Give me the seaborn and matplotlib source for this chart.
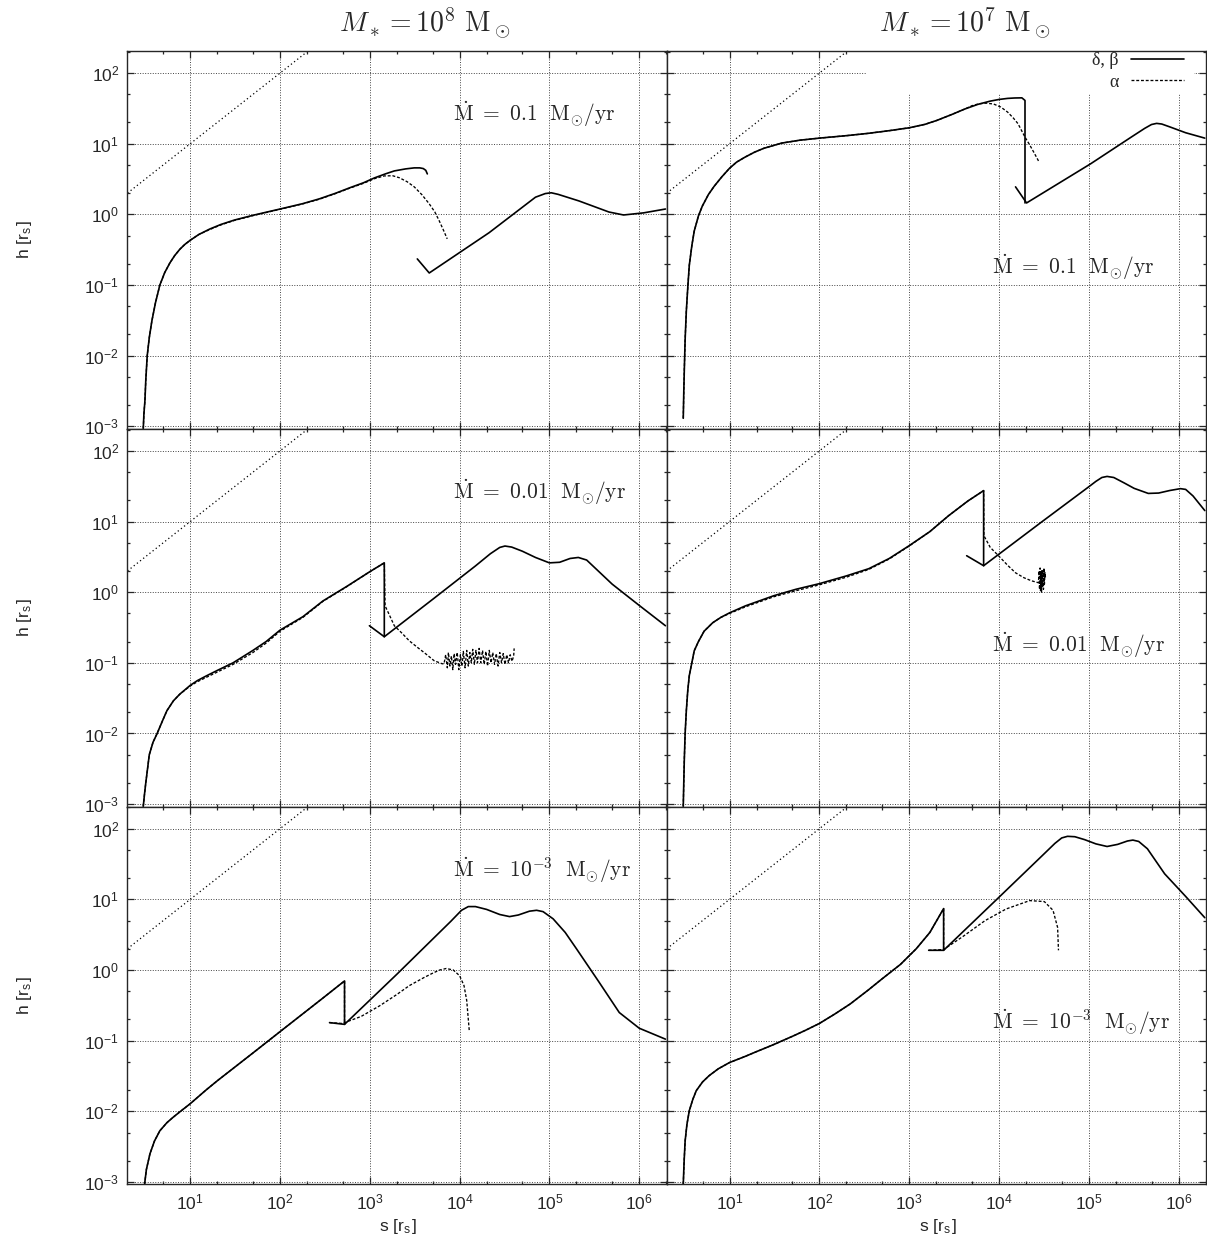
import numpy as np
import matplotlib
matplotlib.use("Agg")
import matplotlib.pyplot as plt
import seaborn as sns
from matplotlib.ticker import FixedLocator, FuncFormatter, NullFormatter
from matplotlib.lines import Line2D
from matplotlib.patches import Rectangle

# ---------------- scale height h [r_s] along the stream coordinate s [r_s] ----------------
# M* = 1e8 Msun, Mdot = 0.1 Msun/yr
p1_inner_s = [3.0, 3.05, 3.13, 3.2, 3.32, 3.5, 3.74, 4.1, 4.59, 5.2, 5.93, 6.7, 7.65, 8.7, 10, 12.5, 16.5, 22, 31, 50, 100,
              180, 275, 420, 593, 850, 1125, 1500, 1875, 2500, 3125, 3600, 3940, 4200, 4370]
p1_inner_h = [9.3e-4, 1.5e-3, 2.3e-3, 4.5e-3, 1.0e-2, 0.018, 0.031, 0.056, 0.10, 0.15, 0.205, 0.26, 0.32, 0.375, 0.43, 0.52, 0.62, 0.72, 0.83, 0.97, 1.19,
              1.42, 1.66, 2.0, 2.37, 2.8, 3.28, 3.75, 4.12, 4.4, 4.55, 4.55, 4.45, 4.2, 3.74]
p1_alpha_s = [3.0, 3.05, 3.13, 3.2, 3.32, 3.5, 3.74, 4.1, 4.59, 5.2, 5.93, 6.7, 7.65, 8.7, 10, 12.5, 16.5, 22, 31, 50, 100,
              180, 275, 420, 593, 850, 1125, 1450, 1800, 2130, 2600, 3125, 3800, 4590, 5300, 5930, 6600, 7280]
p1_alpha_h = [9.3e-4, 1.5e-3, 2.3e-3, 4.5e-3, 1.0e-2, 0.018, 0.031, 0.056, 0.10, 0.15, 0.205, 0.26, 0.32, 0.375, 0.43, 0.52, 0.61, 0.71, 0.82, 0.96, 1.18,
              1.41, 1.64, 1.98, 2.34, 2.75, 3.2, 3.5, 3.52, 3.3, 2.9, 2.45, 1.9, 1.41, 1.08, 0.81, 0.6, 0.45]
p1_outer_s = [3380, 4590, 2.13e4, 7e4, 9e4, 1.05e5, 1.25e5, 2.13e5, 4.6e5, 6.7e5, 1.12e6, 1.96e6]
p1_outer_h = [0.234, 0.148, 0.55, 1.75, 1.97, 2.02, 1.92, 1.55, 1.08, 0.98, 1.05, 1.19]

# M* = 1e7 Msun, Mdot = 0.1 Msun/yr
p2_inner_s = [3.05, 3.09, 3.13, 3.2, 3.3, 3.42, 3.56, 3.8, 4.04, 4.5, 4.96, 5.8, 6.74, 8.2, 10, 12, 15, 19, 24, 38, 60, 100,
              200, 347, 600, 1000, 1500, 2040, 3000, 4170, 5800, 7940, 1.0e4, 1.25e4, 1.5e4, 1.8e4, 1.95e4, 1.95e4]
p2_inner_h = [1.3e-3, 3e-3, 6e-3, 0.017, 0.043, 0.09, 0.19, 0.36, 0.58, 0.95, 1.3, 1.9, 2.5, 3.4, 4.5, 5.5, 6.5, 7.6, 8.6, 10.2, 11.2, 12,
              13, 14, 15.3, 16.8, 18.8, 21.4, 26, 31, 36, 40, 42.3, 43.8, 44.4, 44.6, 41, 1.45]
p2_alpha_s = [3.05, 3.09, 3.13, 3.2, 3.3, 3.42, 3.56, 3.8, 4.04, 4.5, 4.96, 5.8, 6.74, 8.2, 10, 12, 15, 19, 24, 38, 60, 100,
              200, 347, 600, 1000, 1500, 2040, 3000, 4170, 5000, 6000, 7200, 8700, 1.05e4, 1.25e4, 1.45e4, 1.63e4, 1.95e4, 2.2e4, 2.44e4, 2.8e4]
p2_alpha_h = [1.3e-3, 3e-3, 6e-3, 0.017, 0.043, 0.09, 0.19, 0.36, 0.58, 0.95, 1.3, 1.9, 2.5, 3.4, 4.5, 5.5, 6.5, 7.6, 8.6, 10.2, 11.2, 12,
              13, 14, 15.3, 16.8, 18.8, 21.4, 26, 31, 34.5, 36.8, 37.5, 36.5, 33, 28, 23, 19.2, 12.4, 9.6, 7.6, 5.5]
p2_outer_s = [1.53e4, 2.03e4, 1.05e5, 3e5, 4.2e5, 5e5, 5.7e5, 6.5e5, 8e5, 1.2e6, 1.96e6]
p2_outer_h = [2.45, 1.45, 5.2, 12.5, 16.5, 18.7, 19.4, 19.0, 17.3, 14.3, 12]

# M* = 1e8 Msun, Mdot = 0.01 Msun/yr
p3_inner_s = [3.0, 3.1, 3.2, 3.5, 3.85, 4.28, 4.9, 5.5, 6.5, 7.65, 10, 12, 15, 20, 30, 50, 70, 100, 180, 300, 550, 1000, 1450, 1450]
p3_inner_h = [9.3e-4, 1.4e-3, 2e-3, 5e-3, 7.5e-3, 0.01, 0.015, 0.021, 0.029, 0.036, 0.048, 0.056, 0.065, 0.078, 0.1, 0.15, 0.2, 0.29, 0.45, 0.75, 1.2, 1.95, 2.6, 0.234]
p3_alpha_s = [3.0, 3.1, 3.2, 3.5, 3.85, 4.28, 4.9, 5.5, 6.5, 7.65, 10, 12, 15, 20, 30, 50, 70, 100, 180, 300, 550, 1000, 1450,
              1480, 1610, 1875, 2300, 2750, 3400, 4050, 5210, 6400,
              6700, 7000, 7300, 7500, 7800, 8100, 8400, 8700, 9000, 9400, 9800, 10200, 10600, 11000, 11500, 12000,
              12500, 13000, 13500, 14000, 14600, 15200, 15800, 16500, 17200, 18000, 18800, 19600, 20500, 21400,
              22400, 23400, 24500, 25600, 26800, 28000, 29300, 30600, 32000, 33500, 35000, 36600, 38300, 40000, 40500]
p3_alpha_h = [9.3e-4, 1.4e-3, 2e-3, 5e-3, 7.5e-3, 0.01, 0.015, 0.021, 0.029, 0.036, 0.047, 0.054, 0.062, 0.074, 0.095, 0.14, 0.19, 0.28, 0.44, 0.74, 1.19, 1.95, 2.6,
              0.64, 0.51, 0.335, 0.26, 0.205, 0.165, 0.139, 0.107, 0.097,
              0.097, 0.13, 0.085, 0.14, 0.09, 0.125, 0.08, 0.135, 0.095, 0.14, 0.08, 0.13, 0.09, 0.145, 0.085, 0.15,
              0.09, 0.14, 0.1, 0.155, 0.095, 0.15, 0.1, 0.16, 0.1, 0.15, 0.095, 0.145, 0.09, 0.15,
              0.1, 0.14, 0.095, 0.135, 0.09, 0.14, 0.1, 0.135, 0.095, 0.13, 0.1, 0.13, 0.105, 0.125, 0.16]
p3_outer_s = [990, 1450, 5000, 1.5e4, 2.2e4, 2.8e4, 3.2e4, 3.8e4, 5e4, 7e4, 1e5, 1.3e5, 1.7e5, 2.1e5, 2.6e5, 5e5, 1e6, 1.96e6]
p3_outer_h = [0.335, 0.234, 0.79, 2.35, 3.5, 4.3, 4.5, 4.35, 3.8, 3.1, 2.6, 2.65, 3.0, 3.1, 2.85, 1.3, 0.65, 0.335]

# M* = 1e7 Msun, Mdot = 0.01 Msun/yr
p4_inner_s = [3.05, 3.09, 3.13, 3.2, 3.3, 3.42, 3.56, 3.8, 4.04, 4.5, 5.2, 6.5, 8, 10, 15, 31, 55, 100, 200, 355, 600, 1000,
              1700, 2750, 4500, 6750, 6750]
p4_inner_h = [9.3e-4, 2e-3, 4.1e-3, 0.01, 0.021, 0.04, 0.066, 0.1, 0.148, 0.2, 0.28, 0.37, 0.44, 0.51, 0.64, 0.89, 1.1, 1.32, 1.7, 2.15, 3.0, 4.55,
              7.2, 12.1, 19.5, 27.4, 2.37]
p4_alpha_s = [3.05, 3.09, 3.13, 3.2, 3.3, 3.42, 3.56, 3.8, 4.04, 4.5, 5.2, 6.5, 8, 10, 15, 31, 55, 100, 200, 355, 600, 1000,
              1700, 2750, 4500, 6750, 6800, 8000, 9890, 1.25e4, 1.53e4, 1.9e4, 2.3e4,
              27500, 28000, 28300, 28700, 29000, 29400, 29800, 30200, 30500, 30900, 31300, 31700, 32100, 32500, 33000]
p4_alpha_h = [9.3e-4, 2e-3, 4.1e-3, 0.01, 0.021, 0.04, 0.066, 0.1, 0.148, 0.2, 0.28, 0.37, 0.44, 0.5, 0.62, 0.86, 1.05, 1.27, 1.63, 2.1, 2.95, 4.5,
              7.2, 12.1, 19.5, 27.4, 6.3, 4.3, 3.28, 2.4, 1.88, 1.6, 1.45,
              1.36, 2.0, 1.1, 2.2, 1.05, 1.9, 1.0, 2.1, 1.2, 1.95, 1.1, 2.2, 1.3, 1.9, 1.6]
p4_outer_s = [4370, 6750, 3e4, 1e5, 1.2e5, 1.4e5, 1.6e5, 1.9e5, 2.5e5, 3.2e5, 4.6e5, 6e5, 8e5, 1.05e6, 1.2e6, 1.45e6, 1.96e6]
p4_outer_h = [3.28, 2.37, 9.9, 31, 37, 42, 43.5, 42, 35, 29.5, 25, 25.3, 27.5, 29.2, 28.5, 23, 14.3]

# M* = 1e8 Msun, Mdot = 1e-3 Msun/yr
p5_inner_s = [3.1, 3.25, 3.56, 4.0, 4.59, 5.5, 6.5, 7.65, 10, 15, 20, 50, 100, 300, 523, 523]
p5_inner_h = [9.2e-4, 1.5e-3, 2.5e-3, 3.8e-3, 5.3e-3, 6.9e-3, 8.3e-3, 9.8e-3, 0.0128, 0.02, 0.027, 0.067, 0.134, 0.4, 0.7, 0.17]
p5_alpha_s = [356, 495, 800, 1280, 2000, 2750, 4000, 5000, 6000, 7100, 8500, 1e4, 1.12e4, 1.2e4, 1.28e4]
p5_alpha_h = [0.18, 0.175, 0.22, 0.31, 0.45, 0.6, 0.78, 0.9, 1.0, 1.05, 1.0, 0.83, 0.6, 0.37, 0.14]
p5_outer_s = [356, 523, 2000, 8000, 1.05e4, 1.25e4, 1.5e4, 2e4, 2.8e4, 3.6e4, 4.5e4, 6e4, 7.2e4, 8.5e4, 1.1e5, 1.5e5, 2e5,
              3.5e5, 6e5, 1e6, 1.96e6]
p5_outer_h = [0.18, 0.17, 0.87, 4.9, 7.0, 7.9, 7.9, 7.2, 6.1, 5.7, 6.0, 6.8, 7.0, 6.7, 5.3, 3.4, 2.0,
              0.7, 0.25, 0.15, 0.105]

# M* = 1e7 Msun, Mdot = 1e-3 Msun/yr
p6_inner_s = [3.05, 3.12, 3.2, 3.35, 3.56, 3.9, 4.26, 5, 5.93, 7.5, 10, 15, 20, 31, 50, 70, 100, 150, 220, 350, 500, 800,
              1200, 1700, 2420, 2420]
p6_inner_h = [9.3e-4, 2e-3, 3.8e-3, 6.5e-3, 0.0102, 0.0148, 0.0196, 0.026, 0.032, 0.04, 0.049, 0.06, 0.07, 0.088, 0.115, 0.14, 0.175, 0.24, 0.33, 0.52, 0.75, 1.2,
              2.0, 3.4, 7.4, 1.9]
p6_alpha_s = [1650, 2420, 4000, 7000, 1.2e4, 2.2e4, 3.2e4, 4e4, 4.5e4, 4.6e4]
p6_alpha_h = [1.9, 1.95, 3.0, 5.0, 7.3, 9.6, 9.3, 7.0, 4.0, 1.9]
p6_outer_s = [1650, 2420, 1e4, 3e4, 4.2e4, 5e4, 5.8e4, 7e4, 9e4, 1.2e5, 1.6e5, 2.1e5, 2.7e5, 3.1e5, 3.6e5, 4.5e5, 7e5, 1.2e6, 1.96e6]
p6_outer_h = [1.9, 1.9, 10.7, 41, 62, 74, 78, 77, 70, 61, 56, 60, 67, 69, 66, 52, 23, 11, 5.5]

# reference line h = s
diag_s = [2, 200]
diag_h = [2, 200]

# decade ticks inside the plotted window
s_ticks = [1e1, 1e2, 1e3, 1e4, 1e5, 1e6]
h_ticks = [1e-3, 1e-2, 1e-1, 1e0, 1e1, 1e2]
s_minor = [5, 20, 50, 200, 500, 2e3, 5e3, 2e4, 5e4, 2e5, 5e5, 2e6]
h_minor = [2e-3, 5e-3, 2e-2, 5e-2, 0.2, 0.5, 2, 5, 20, 50, 200]

col_titles = [r"$M_* = 10^8\ \mathrm{M}_\odot$", r"$M_* = 10^7\ \mathrm{M}_\odot$"]
mdot_labels = [r"$\dot{\mathrm{M}}\ =\ 0.1\ \ \mathrm{M}_{\odot}/\mathrm{yr}$",
               r"$\dot{\mathrm{M}}\ =\ 0.01\ \ \mathrm{M}_{\odot}/\mathrm{yr}$",
               r"$\dot{\mathrm{M}}\ =\ 10^{-3}\ \ \mathrm{M}_{\odot}/\mathrm{yr}$"]
legend_labels = ["\u03b4, \u03b2", "\u03b1"]

# ---------------- styling ----------------
sns.set_style("ticks")
plt.rcParams["font.family"] = ["Liberation Sans", "DejaVu Sans"]
plt.rcParams["mathtext.fontset"] = "cm"
plt.rcParams["axes.linewidth"] = 1.0

SOLID = dict(color="black", linewidth=1.2, linestyle="-")
DASHED = dict(color="black", linewidth=0.95, linestyle=(0, (2.2, 1.4)))
DOTTED = dict(color="black", linewidth=0.9, linestyle=(0, (1, 2.2)))


def trace(ax, s, h, style):
    sns.lineplot(x=s, y=h, ax=ax, sort=False, estimator=None, **style)


fig, axes = plt.subplots(3, 2, figsize=(12.07, 12.45), dpi=100, sharex=True, sharey=True)
fig.subplots_adjust(left=0.1056, right=0.9993, top=0.959, bottom=0.0486, wspace=0, hspace=0)

decade_fmt = FuncFormatter(lambda v, pos: r"$\mathregular{10^{%d}}$" % int(round(np.log10(v))))

for ax in axes.flat:
    ax.set_xscale("log")
    ax.set_yscale("log")
    ax.set_xlim(2, 2.03e6)
    ax.set_ylim(9.2e-4, 2.05e2)
    ax.xaxis.set_major_locator(FixedLocator(s_ticks))
    ax.xaxis.set_minor_locator(FixedLocator(s_minor))
    ax.yaxis.set_major_locator(FixedLocator(h_ticks))
    ax.yaxis.set_minor_locator(FixedLocator(h_minor))
    ax.xaxis.set_major_formatter(decade_fmt)
    ax.yaxis.set_major_formatter(decade_fmt)
    ax.xaxis.set_minor_formatter(NullFormatter())
    ax.yaxis.set_minor_formatter(NullFormatter())
    ax.grid(True, which="major", color="#444444", linewidth=0.7, linestyle=(0, (1, 1.6)))
    ax.set_axisbelow(True)
    ax.tick_params(which="both", direction="in", top=True, right=True, width=0.9, labelsize=12.5)
    ax.tick_params(which="major", length=5, pad=6)
    ax.tick_params(which="minor", length=2.5)
    trace(ax, diag_s, diag_h, DOTTED)

panels = [
    (axes[0, 0], p1_inner_s, p1_inner_h, p1_alpha_s, p1_alpha_h, p1_outer_s, p1_outer_h),
    (axes[0, 1], p2_inner_s, p2_inner_h, p2_alpha_s, p2_alpha_h, p2_outer_s, p2_outer_h),
    (axes[1, 0], p3_inner_s, p3_inner_h, p3_alpha_s, p3_alpha_h, p3_outer_s, p3_outer_h),
    (axes[1, 1], p4_inner_s, p4_inner_h, p4_alpha_s, p4_alpha_h, p4_outer_s, p4_outer_h),
    (axes[2, 0], p5_inner_s, p5_inner_h, p5_alpha_s, p5_alpha_h, p5_outer_s, p5_outer_h),
    (axes[2, 1], p6_inner_s, p6_inner_h, p6_alpha_s, p6_alpha_h, p6_outer_s, p6_outer_h),
]
for ax, in_s, in_h, al_s, al_h, out_s, out_h in panels:
    trace(ax, al_s, al_h, DASHED)
    trace(ax, in_s, in_h, SOLID)
    trace(ax, out_s, out_h, SOLID)

# the alpha runs of the two lowest-rate panels also follow the inner branch
trace(axes[2, 0], p5_inner_s, p5_inner_h, DASHED)
trace(axes[2, 1], p6_inner_s, p6_inner_h, DASHED)

# accretion-rate annotations: left column upper area, right column middle
for r in range(3):
    for c in range(2):
        ypos = 0.832 if c == 0 else 0.429
        axes[r, c].text(0.603, ypos, mdot_labels[r], transform=axes[r, c].transAxes,
                        ha="left", va="center", fontsize=15.5)

# key in the upper right panel on an opaque box
kax = axes[0, 1]
kax.add_patch(Rectangle((0.3706, 0.886), 0.606, 0.114, transform=kax.transAxes,
                        facecolor="white", edgecolor="none", zorder=1.5))
handles = [Line2D([], [], **SOLID), Line2D([], [], **DASHED)]
kax.legend(handles, legend_labels, loc="upper right", bbox_to_anchor=(0.958, 0.997),
           frameon=False, markerfirst=False, handlelength=2.9, handletextpad=0.7,
           labelspacing=0.25, borderpad=0, borderaxespad=0,
           prop={"family": "Liberation Serif", "size": 13})

for ax in axes.flat:
    ax.set_xlabel("")
    ax.set_ylabel("")

# column titles and axis labels
W, H = 1207.0, 1245.0
fig.text(425 / W, 1 - 23 / H, col_titles[0], ha="center", va="center", fontsize=20)
fig.text(965 / W, 1 - 23 / H, col_titles[1], ha="center", va="center", fontsize=20)
for yc in (240, 618, 996):
    fig.text(24 / W, 1 - yc / H, r"h [r$_\mathregular{s}$]", rotation=90, ha="center", va="center", fontsize=12.5)
for xc in (397.5, 937.5):
    fig.text(xc / W, 1 - 1226 / H, r"s [r$_\mathregular{s}$]", ha="center", va="center", fontsize=12.5)

fig.savefig("out.png", dpi=100)
